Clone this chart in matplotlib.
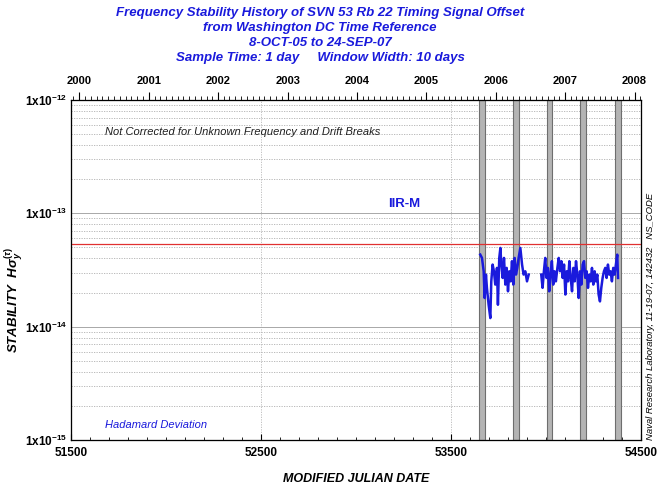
import datetime
import numpy as np
import matplotlib
matplotlib.use("Agg")
import matplotlib.pyplot as plt
from matplotlib.ticker import FixedLocator, LogLocator, NullFormatter

plt.rcParams['font.family'] = ['Liberation Sans', 'DejaVu Sans']
plt.rcParams['mathtext.fontset'] = 'custom'
plt.rcParams['mathtext.rm'] = 'Liberation Sans:bold'
plt.rcParams['mathtext.it'] = 'Liberation Sans:bold:italic'
plt.rcParams['mathtext.bf'] = 'Liberation Sans:bold'

BLUE = '#1a1adc'

# first data segment (MJD, stability in units of 1e-14)
seg1_mjd = [53654, 53663, 53672, 53677, 53684, 53689, 53698, 53707, 53712, 53719,
            53726, 53733, 53742, 53747, 53754, 53760, 53765, 53772, 53779, 53786,
            53793, 53800, 53807, 53814, 53821, 53828, 53835, 53842, 53849, 53856,
            53865, 53874, 53882, 53891, 53900, 53909]
seg1_stab = [4.32, 4.04, 3.08, 1.79, 2.88, 2.20, 1.56, 1.19, 2.51, 3.53,
             3.08, 2.35, 3.30, 1.56, 4.04, 4.95, 3.53, 2.69, 4.04, 2.35,
             3.30, 2.05, 3.08, 2.51, 3.78, 2.35, 4.04, 2.88, 3.30, 4.04,
             4.95, 3.53, 2.88, 3.08, 2.51, 2.88]

# second data segment
seg2_mjd = [53975, 53982, 53989, 53996, 54003, 54010, 54017, 54024, 54031, 54038,
            54045, 54052, 54060, 54067, 54074, 54081, 54088, 54095, 54102, 54109,
            54116, 54123, 54130, 54137, 54144, 54151, 54158, 54165, 54172, 54179,
            54186, 54193, 54200, 54207, 54214, 54221, 54228, 54235, 54242, 54249,
            54256, 54263, 54270, 54277, 54284, 54291, 54298, 54305, 54312, 54319,
            54326, 54333, 54340, 54347, 54354, 54361, 54368, 54375, 54379]
seg2_stab = [2.88, 2.20, 3.08, 4.04, 2.69, 3.30, 2.05, 2.88, 3.78, 2.35,
             3.08, 2.51, 3.30, 4.04, 3.08, 3.78, 2.69, 3.53, 1.92, 3.08,
             2.51, 3.78, 2.69, 2.05, 3.30, 2.51, 3.78, 2.88, 1.79, 3.08,
             2.35, 3.53, 3.78, 2.69, 3.08, 2.20, 2.88, 2.51, 3.30, 2.35,
             3.08, 2.51, 2.88, 1.92, 1.67, 2.20, 2.69, 3.08, 3.30, 2.69,
             3.53, 2.88, 3.08, 2.51, 3.30, 2.88, 3.53, 4.32, 2.69]

# eclipse / break bands (MJD)
band_start = [53648, 53827, 54003, 54180, 54364]
band_end = [53678, 53857, 54033, 54210, 54394]

spec_level = 5.4e-14
years = list(range(2000, 2009))
mjd_ticks = [51500, 52500, 53500, 54500]

title_lines = ['Frequency Stability History of SVN 53 Rb 22 Timing Signal Offset',
               'from Washington DC Time Reference',
               '8-OCT-05 to 24-SEP-07',
               'Sample Time: 1 day     Window Width: 10 days']


def mjd(y, m=1, d=1):
    return (datetime.date(y, m, d) - datetime.date(1858, 11, 17)).days


fig = plt.figure(figsize=(6.6, 4.91), dpi=100)
ax = fig.add_axes([0.1076, 0.1039, 0.8636, 0.6925])

ax.set_yscale('log')
ax.set_xlim(51500, 54500)
ax.set_ylim(1e-15, 1e-12)

# grid
ax.yaxis.set_minor_locator(LogLocator(base=10, subs=np.arange(2, 10)))
ax.yaxis.set_minor_formatter(NullFormatter())
ax.grid(which='minor', axis='y', color='#b0b0b0', ls=(0, (1.5, 1.5)), lw=0.6)
ax.grid(which='major', axis='y', color='#a8a8a8', ls='-', lw=0.7)
ax.grid(which='major', axis='x', color='#b8b8b8', ls=(0, (1.5, 1.5)), lw=0.6)

for s, e in zip(band_start, band_end):
    ax.axvspan(s, e, facecolor='#b4b4b4', edgecolor='#6e6e6e', lw=0.8, zorder=2)

ax.axhline(spec_level, color='#e03030', lw=0.9, zorder=3)

ax.plot(seg1_mjd, np.array(seg1_stab) * 1e-14, color=BLUE, lw=1.8, zorder=4)
ax.plot(seg2_mjd, np.array(seg2_stab) * 1e-14, color=BLUE, lw=1.8, zorder=4)

# bottom axis
ax.set_xticks(mjd_ticks)
ax.set_xticklabels([str(t) for t in mjd_ticks], fontsize=8.5, fontweight='bold')
ax.xaxis.set_minor_locator(FixedLocator(np.arange(51600, 54500, 100)))
ax.tick_params(axis='x', which='major', direction='in', length=4, pad=5)
ax.tick_params(axis='x', which='minor', direction='in', length=2.5)
ax.set_xlabel('MODIFIED JULIAN DATE', fontsize=9, fontweight='bold',
              fontstyle='italic', labelpad=10)

# left axis
ax.set_yticks([1e-15, 1e-14, 1e-13, 1e-12])
ax.set_yticklabels([r'$1\mathrm{x}10^{-15}$', r'$1\mathrm{x}10^{-14}$',
                    r'$1\mathrm{x}10^{-13}$', r'$1\mathrm{x}10^{-12}$'], fontsize=8.5)
ax.tick_params(axis='y', which='both', length=0, pad=3)
fig.text(15 / 660, 1 - 300 / 491, r'STABILITY  H$\sigma_y^{(\tau)}$', rotation=90,
         fontsize=9.5, fontweight='bold', fontstyle='italic', ha='center', va='center')

for sp in ax.spines.values():
    sp.set_color('#404040')
    sp.set_linewidth(0.9)

# top axis in years
ax2 = ax.twiny()
ax2.set_xlim(ax.get_xlim())
ax2.set_xticks([mjd(y) for y in years])
ax2.set_xticklabels([str(y) for y in years], fontsize=8, fontweight='bold')
months = [mjd(y, m) for y in range(1999, 2009) for m in range(1, 13)]
months = [m for m in months if 51500 <= m <= 54500]
ax2.xaxis.set_minor_locator(FixedLocator(months))
ax2.tick_params(axis='x', which='major', direction='out', length=6, pad=4)
ax2.tick_params(axis='x', which='minor', direction='out', length=3)

# annotations
ax.text(0.06, 0.905, 'Not Corrected for Unknown Frequency and Drift Breaks',
        transform=ax.transAxes, fontsize=8, fontstyle='italic', color='#202020',
        va='center')
ax.text(0.585, 0.695, 'IIR-M', transform=ax.transAxes, fontsize=9.5,
        fontweight='bold', color=BLUE, ha='center', va='center')
ax.text(0.06, 0.045, 'Hadamard Deviation', transform=ax.transAxes, fontsize=8,
        fontstyle='italic', color=BLUE, va='center')
fig.text(0.985, 0.1039, 'Naval Research Laboratory, 11-19-07, 142432   NS_CODE',
         rotation=90, fontsize=6.8, fontstyle='italic', ha='center', va='bottom')

for i, line in enumerate(title_lines):
    fig.text(0.485, 1 - (13 + 15 * i) / 491, line, ha='center', va='center',
             fontsize=9.5, fontweight='bold', fontstyle='italic', color=BLUE)

fig.savefig('out.png', dpi=100)
